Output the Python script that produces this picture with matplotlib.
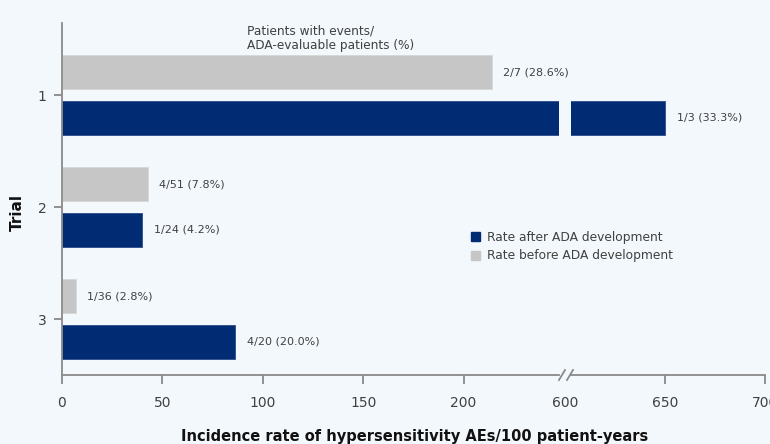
import matplotlib
matplotlib.use("Agg")
import matplotlib.pyplot as plt
from matplotlib.patches import Patch
from matplotlib.lines import Line2D
import numpy as np

# ---- data ----
trials = ["1", "2", "3"]
rate_before = [214, 43, 7]
rate_after = [650, 40, 86]
labels_before = ["2/7 (28.6%)", "4/51 (7.8%)", "1/36 (2.8%)"]
labels_after = ["1/3 (33.3%)", "1/24 (4.2%)", "4/20 (20.0%)"]
left_ticks = [0, 50, 100, 150, 200]
right_ticks = [650, 700]
break_label = 600

BG = "#F3F8FD"
BLUE = "#012B72"
GRAY = "#C6C6C6"
SPINE = "#8A8A8A"
TXT = "#404040"
plt.rcParams["font.family"] = ["DejaVu Sans"]

W, H = 770, 444
fig = plt.figure(figsize=(W / 100, H / 100), dpi=100, facecolor=BG)

def fx(px):
    return px / W

def fy(py):
    return 1 - py / H

ax_top, ax_bot = 23, 375
ax1 = fig.add_axes([fx(62), fy(ax_bot), fx(559 - 62), (ax_bot - ax_top) / H])
ax2 = fig.add_axes([fx(571), fy(ax_bot), fx(765 - 571), (ax_bot - ax_top) / H])

y = np.arange(1, len(trials) + 1)
off, bh = 0.205, 0.305
for ax in (ax1, ax2):
    ax.set_facecolor(BG)
    ax.barh(y - off, rate_before, height=bh, color=GRAY, edgecolor="#D6D6D6", linewidth=0.6)
    ax.barh(y + off, rate_after, height=bh, color=BLUE, edgecolor="#2A4C8A", linewidth=0.6)
    ax.set_ylim(3.5, 0.357)
    for s in ("top", "right"):
        ax.spines[s].set_visible(False)
    ax.spines["bottom"].set_color(SPINE)
    ax.spines["bottom"].set_linewidth(1.3)
    ax.tick_params(axis="x", direction="out", length=6.5, width=1.3, color=SPINE,
                   labelsize=10, labelcolor=TXT, pad=8.5)

ax1.set_xlim(0, 247.5)
ax2.set_xlim(603, 700)
ax1.set_xticks(left_ticks)
ax2.set_xticks(right_ticks)
ax1.spines["left"].set_color(SPINE)
ax1.spines["left"].set_linewidth(1.3)
ax1.set_yticks(y)
ax1.set_yticklabels(trials)
ax1.tick_params(axis="y", direction="out", length=6, width=1.3, color=SPINE,
                labelsize=10, labelcolor=TXT, pad=5)
ax2.spines["left"].set_visible(False)
ax2.set_yticks([])

# 600 label (tick hidden by break)
ax2.annotate(str(break_label), xy=(break_label, 0), xycoords=("data", "axes fraction"),
             xytext=(0, -15), textcoords="offset points", ha="center", va="top",
             fontsize=10, color=TXT, annotation_clip=False)

# value labels
for i in range(len(trials)):
    ax_b = ax1 if rate_before[i] <= 247.5 else ax2
    ax_b.annotate(labels_before[i], xy=(rate_before[i], y[i] - off), xytext=(8, 0),
                  textcoords="offset points", va="center", ha="left", fontsize=8, color=TXT)
    ax_a = ax1 if rate_after[i] <= 247.5 else ax2
    ax_a.annotate(labels_after[i], xy=(rate_after[i], y[i] + off), xytext=(8.5, 0),
                  textcoords="offset points", va="center", ha="left", fontsize=8, color=TXT)

# break marks
for x0 in (562, 570):
    fig.add_artist(Line2D([fx(x0 - 3), fx(x0 + 3)], [fy(380), fy(370)],
                          color=SPINE, linewidth=1.3))

# header text
fig.text(fx(247), fy(38.5), "Patients with events/\nADA-evaluable patients (%)",
         ha="left", va="center", fontsize=8.7, color=TXT, linespacing=1.15)

# axis titles
fig.text(fx(415), fy(436), "Incidence rate of hypersensitivity AEs/100 patient-years",
         ha="center", va="center", fontsize=10.5, fontweight="bold", color="#111111")
fig.text(fx(17), fy(212), "Trial", ha="center", va="center", rotation=90,
         fontsize=11, fontweight="bold", color="#111111")

# legend
handles = [Patch(facecolor=BLUE, edgecolor=BLUE), Patch(facecolor=GRAY, edgecolor=GRAY)]
leg = fig.legend(handles, ["Rate after ADA development", "Rate before ADA development"],
                 loc="upper left", bbox_to_anchor=(fx(471), fy(231)), frameon=False,
                 fontsize=8.8, handlelength=0.75, handleheight=0.75, handletextpad=0.55,
                 labelspacing=0.45, borderpad=0, borderaxespad=0)
for t in leg.get_texts():
    t.set_color(TXT)

fig.savefig("out.png", dpi=100, facecolor=BG)
